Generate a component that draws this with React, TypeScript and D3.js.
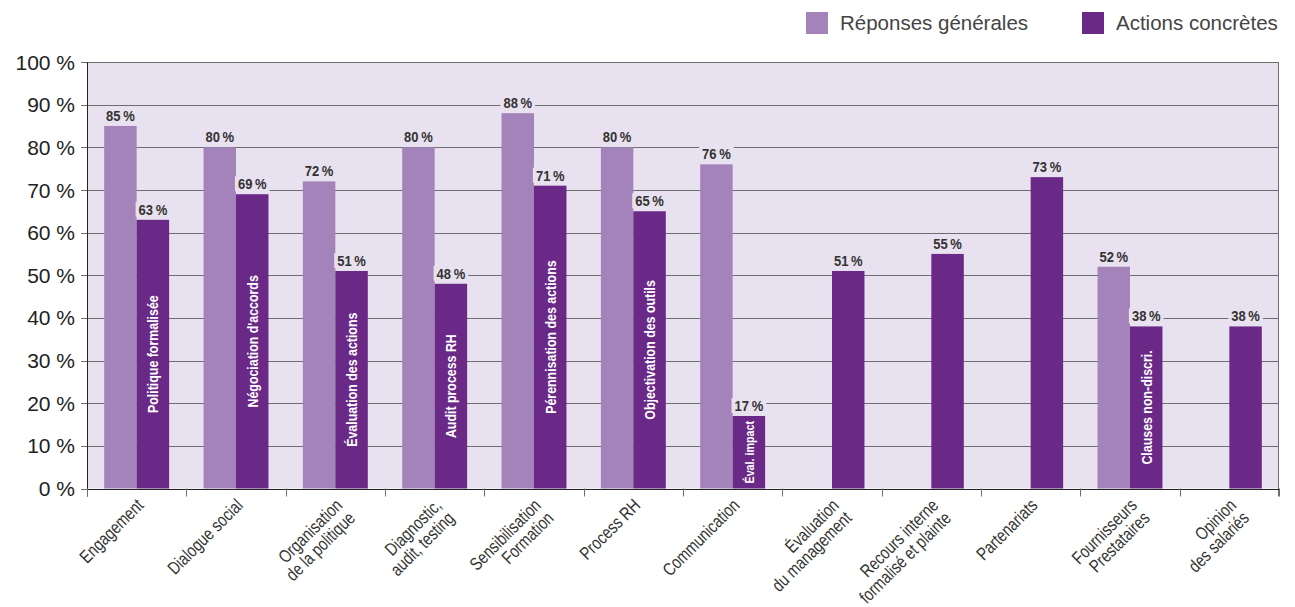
import * as d3 from "d3";
import React, { useEffect, useRef } from "react";

// catégories (axe X), une entrée par ligne de libellé
const categories = [
  ["Engagement"],
  ["Dialogue social"],
  ["Organisation", "de la politique"],
  ["Diagnostic,", "audit, testing"],
  ["Sensibilisation", "Formation"],
  ["Process RH"],
  ["Communication"],
  ["Évaluation", "du management"],
  ["Recours interne", "formalisé et plainte"],
  ["Partenariats"],
  ["Fournisseurs", "Prestataires"],
  ["Opinion", "des salariés"],
];
const reponses: (number | null)[] = [85, 80, 72, 80, 88, 80, 76, null, null, null, 52, null];
const actions: (number | null)[] = [63, 69, 51, 48, 71, 65, 17, 51, 55, 73, 38, 38];
const actionLabels = [
  "Politique formalisée",
  "Négociation d'accords",
  "Évaluation des actions",
  "Audit process RH",
  "Pérennisation des actions",
  "Objectivation des outils",
  "Éval. impact",
  "",
  "",
  "",
  "Clauses non-discri.",
  "",
];
const yTicks = [0, 10, 20, 30, 40, 50, 60, 70, 80, 90, 100];
const seriesNames = ["Réponses générales", "Actions concrètes"];

const COLORS = { light: "#a383b9", dark: "#6a2887", bg: "#e8e1ef", grid: "#6e6e6e", text: "#333" };
const SANS = "'Liberation Sans', Arial, Helvetica, sans-serif";
const NARROW = 0.8; // compression horizontale pour imiter une police étroite

export default function App() {
  const ref = useRef<SVGSVGElement>(null);

  useEffect(() => {
    const W = 1295;
    const H = 607;
    const margin = { top: 62, right: 16, bottom: 118.5, left: 87 };
    const svg = d3.select(ref.current);
    svg.selectAll("*").remove();

    const x = d3
      .scaleBand<number>()
      .domain(categories.map((_, i) => i))
      .range([margin.left, W - margin.right]);
    const xSub = d3
      .scaleBand<string>()
      .domain(["r", "a"])
      .range([0, x.bandwidth()])
      .paddingInner(0)
      .paddingOuter(0.53);
    const y = d3
      .scaleLinear()
      .domain([0, 100])
      .range([H - margin.bottom, margin.top]);

    // fond du graphique
    svg
      .append("rect")
      .attr("x", margin.left)
      .attr("y", y(100))
      .attr("width", W - margin.right - margin.left)
      .attr("height", y(0) - y(100))
      .attr("fill", COLORS.bg);

    // grille
    svg
      .append("g")
      .selectAll("line")
      .data(yTicks)
      .join("line")
      .attr("x1", margin.left - 6)
      .attr("x2", W - margin.right)
      .attr("y1", (d) => Math.round(y(d)) + 0.5)
      .attr("y2", (d) => Math.round(y(d)) + 0.5)
      .attr("stroke", COLORS.grid)
      .attr("stroke-width", 1);

    // bord droit
    svg
      .append("line")
      .attr("x1", W - margin.right - 0.5)
      .attr("x2", W - margin.right - 0.5)
      .attr("y1", y(100))
      .attr("y2", y(0) + 8)
      .attr("stroke", COLORS.grid);

    // libellés Y
    svg
      .append("g")
      .selectAll("text")
      .data(yTicks)
      .join("text")
      .attr("x", 75)
      .attr("y", (d) => y(d))
      .attr("dy", "0.36em")
      .attr("text-anchor", "end")
      .attr("font-family", SANS)
      .attr("font-size", 21)
      .attr("fill", "#222")
      .text((d) => `${d} %`);

    const groups = svg
      .append("g")
      .selectAll("g")
      .data(categories.map((_, i) => i))
      .join("g")
      .attr("transform", (i) => `translate(${x(i)},0)`);

    // barres
    groups
      .filter((i) => reponses[i] != null)
      .append("rect")
      .attr("x", xSub("r")!)
      .attr("width", xSub.bandwidth())
      .attr("y", (i) => y(reponses[i]!))
      .attr("height", (i) => y(0) - y(reponses[i]!))
      .attr("fill", COLORS.light);
    groups
      .filter((i) => actions[i] != null)
      .append("rect")
      .attr("x", xSub("a")!)
      .attr("width", xSub.bandwidth())
      .attr("y", (i) => y(actions[i]!))
      .attr("height", (i) => y(0) - y(actions[i]!))
      .attr("fill", COLORS.dark);

    // libellés dans les barres (réduits s'ils dépassent la barre)
    groups
      .filter((i) => !!actionLabels[i])
      .append("text")
      .attr(
        "transform",
        (i) =>
          `translate(${xSub("a")! + xSub.bandwidth() / 2},${(y(actions[i]!) + y(0)) / 2}) rotate(-90) scale(${NARROW},1)`
      )
      .attr("text-anchor", "middle")
      .attr("dy", "0.36em")
      .attr("font-family", SANS)
      .attr("font-weight", "bold")
      .attr("font-size", 15.5)
      .attr("fill", "#fff")
      .text((i) => actionLabels[i])
      .each(function (i) {
        const len = this.getComputedTextLength() * NARROW;
        const room = y(0) - y(actions[i]!) - 10;
        if (len > room) d3.select(this).attr("font-size", (15.5 * room) / len);
      });

    // valeurs au-dessus des barres
    const addValue = (key: string, values: (number | null)[]) => {
      const g = groups.filter((i) => values[i] != null).append("g");
      g.attr(
        "transform",
        (i) => `translate(${xSub(key)! + xSub.bandwidth() / 2},${y(values[i]!) - 5})`
      );
      g.append("text")
        .attr("transform", `scale(${NARROW + 0.04},1)`)
        .attr("text-anchor", "middle")
        .attr("font-family", SANS)
        .attr("font-weight", "bold")
        .attr("font-size", 15.5)
        .attr("fill", COLORS.text)
        .text((i) => `${values[i]}\u2009%`);
      g.each(function () {
        const node = d3.select(this).select<SVGTextElement>("text").node()!;
        const w = node.getComputedTextLength() * (NARROW + 0.04);
        d3.select(this)
          .insert("rect", "text")
          .attr("x", -w / 2 - 3)
          .attr("y", -13)
          .attr("width", w + 6)
          .attr("height", 15)
          .attr("fill", COLORS.bg);
      });
    };
    addValue("r", reponses);
    addValue("a", actions);

    // axes
    svg
      .append("line")
      .attr("x1", margin.left + 0.5)
      .attr("x2", margin.left + 0.5)
      .attr("y1", y(100))
      .attr("y2", y(0) + 8)
      .attr("stroke", "#222");
    svg
      .append("line")
      .attr("x1", margin.left)
      .attr("x2", W - margin.right)
      .attr("y1", Math.round(y(0)) + 0.5)
      .attr("y2", Math.round(y(0)) + 0.5)
      .attr("stroke", "#222")
      .attr("stroke-width", 1.2);
    svg
      .append("g")
      .selectAll("line")
      .data(categories.map((_, i) => i).concat([categories.length]))
      .join("line")
      .attr("x1", (i) => Math.round(margin.left + i * x.step()) + 0.5)
      .attr("x2", (i) => Math.round(margin.left + i * x.step()) + 0.5)
      .attr("y1", y(0))
      .attr("y2", y(0) + 8)
      .attr("stroke", COLORS.grid);

    // libellés X inclinés
    const xl = svg
      .append("g")
      .selectAll("text")
      .data(categories.map((_, i) => i))
      .join("text")
      .attr(
        "transform",
        (i) => `translate(${x(i)! + x.bandwidth() / 2 + 8},${y(0) + 18}) rotate(-45) scale(${NARROW},1)`
      )
      .attr("text-anchor", "end")
      .attr("font-family", SANS)
      .attr("font-size", 18)
      .attr("fill", COLORS.text);
    xl.selectAll("tspan")
      .data((i) => categories[i])
      .join("tspan")
      .attr("x", 0)
      .attr("dy", (_, j) => (j === 0 ? 0 : "1em"))
      .text((d) => d);

    // légende
    const legend = svg.append("g").attr("transform", "translate(806,12)");
    const items = [
      { name: seriesNames[0], color: COLORS.light, x: 0 },
      { name: seriesNames[1], color: COLORS.dark, x: 276 },
    ];
    items.forEach((it) => {
      legend
        .append("rect")
        .attr("x", it.x)
        .attr("y", 0)
        .attr("width", 22)
        .attr("height", 22)
        .attr("fill", it.color);
      legend
        .append("text")
        .attr("x", it.x + 34)
        .attr("y", 18)
        .attr("font-family", SANS)
        .attr("font-size", 20.5)
        .attr("fill", "#444")
        .text(it.name);
    });
  }, []);

  return (
    <div style={{ position: "absolute", left: 0, top: 0 }}>
      <svg ref={ref} width={1295} height={607} style={{ display: "block", background: "#fff" }} />
    </div>
  );
}
